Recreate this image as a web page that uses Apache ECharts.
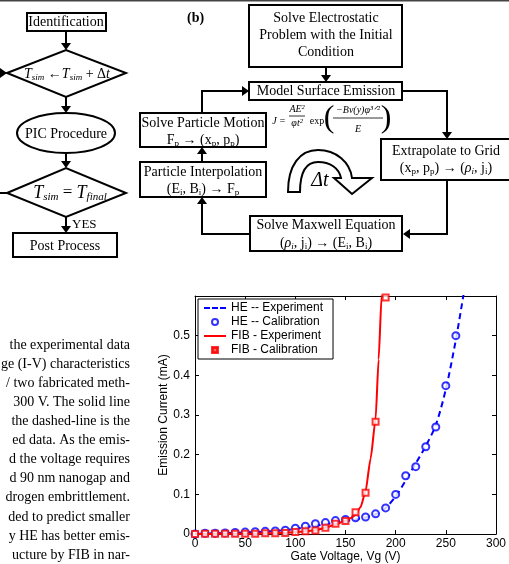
<!DOCTYPE html>
<html>
<head>
<meta charset="utf-8">
<script src="https://cdn.jsdelivr.net/npm/echarts@6/dist/echarts.min.js"></script>
<style>
html,body{margin:0;padding:0;background:#fff}
#main{width:509px;height:564px}
</style>
</head>
<body>
<div id="main"></div>
<script>
// HE -- Calibration (circles)
var heCalibV = [0,10,20,30,40,50,60,70,80,90,100,110,120,130,140,150,160,170,180,190,200,210,220,230,240,250,260];
var heCalib = [0.000,0.002,0.002,0.003,0.004,0.005,0.006,0.007,0.008,0.010,0.015,0.020,0.026,0.029,0.034,0.037,0.041,0.043,0.051,0.066,0.100,0.147,0.170,0.220,0.270,0.374,0.500];
// HE -- Experiment (dashed)
var heExpV = [0,10,20,30,40,50,60,70,80,90,100,110,120,130,140,150,160,170,180,190,200,210,220,230,240,250,260,270];
var heExp = [0.001,0.001,0.002,0.002,0.003,0.004,0.005,0.006,0.008,0.010,0.013,0.017,0.021,0.025,0.029,0.033,0.037,0.042,0.050,0.066,0.095,0.135,0.178,0.222,0.275,0.365,0.490,0.640];
// FIB - Calibration (squares)
var fibCalibV = [0,10,20,30,40,50,60,70,80,90,100,110,120,130,140,150,160,170,180,190];
var fibCalib = [0.000,0.001,0.001,0.001,0.001,0.001,0.001,0.002,0.002,0.003,0.005,0.007,0.009,0.016,0.026,0.033,0.055,0.104,0.283,0.596];
// FIB - Experiment (solid)
var fibExpV = [0,10,20,30,40,50,60,70,80,90,100,110,120,130,140,150,155,160,165,170,175,180,183,186,189];
var fibExp = [0.000,0.000,0.001,0.001,0.001,0.001,0.001,0.002,0.002,0.003,0.005,0.007,0.010,0.016,0.024,0.034,0.040,0.048,0.068,0.108,0.190,0.290,0.440,0.600,0.760];

var seriesNames = ['HE -- Experiment', 'HE -- Calibration', 'FIB - Experiment', 'FIB - Calibration'];
var textLines = [
    'the experimental data',
    'ge (I-V) characteristics',
    '/ two fabricated meth-',
    ' 300 V. The solid line',
    'the dashed-line is the',
    'ed data. As the emis-',
    'd the voltage requires',
    'd 90 nm nanogap and',
    'drogen embrittlement.',
    'ded to predict smaller',
    'y HE has better emis-',
    'ucture by FIB in nar-'
];

function pairs(xs, ys) {
    return xs.map(function (x, i) { return [x, ys[i]]; });
}

var SERIF = '"Liberation Serif", "DejaVu Serif", serif';
var SANS = '"Liberation Sans", Arial, sans-serif';
var rich = {
    n: { font: '14px ' + SERIF, fill: '#000', lineHeight: 17 },
    i: { font: 'italic 14px ' + SERIF, fill: '#000', lineHeight: 17 },
    s: { font: 'italic 9px ' + SERIF, fill: '#000', verticalAlign: 'bottom', lineHeight: 17 },
    r: { font: '9px ' + SERIF, fill: '#000', verticalAlign: 'bottom', lineHeight: 17 }
};

// 循环箭头的形状
echarts.graphic.registerShape('loopArrow', echarts.graphic.extendPath(
    'M288,192 C288,165 300,150 318,150 C336,150 350,162 352,178 L372,178 L352,194 L334,178 L341,178 C339,168 330,162 318,162 C306,162 300,172 300,192 Z'
));

// 流程图的小工具
var g = [];
function box(x, y, w, h) {
    g.push({ type: 'rect', shape: { x: x, y: y, width: w, height: h }, style: { fill: '#fff', stroke: '#000', lineWidth: 2 } });
}
function txt(x, y, t, font, align) {
    g.push({ type: 'text', style: { text: t, x: x, y: y, font: font || ('14px ' + SERIF), fill: '#000', align: align || 'center', verticalAlign: 'middle', rich: rich } });
}
function poly(pts) {
    g.push({ type: 'polyline', shape: { points: pts }, style: { stroke: '#000', lineWidth: 2, fill: null } });
}
function head(x, y, dir) {
    var p;
    if (dir === 'down') p = [[x - 5, y - 7], [x + 5, y - 7], [x, y]];
    else if (dir === 'up') p = [[x - 5, y + 7], [x + 5, y + 7], [x, y]];
    else if (dir === 'right') p = [[x - 7, y - 5], [x - 7, y + 5], [x, y]];
    else p = [[x + 7, y - 5], [x + 7, y + 5], [x, y]];
    g.push({ type: 'polygon', shape: { points: p }, style: { fill: '#000' } });
}

// 顶部的分隔线
g.push({ type: 'rect', shape: { x: 0, y: 0, width: 509, height: 1.5 }, style: { fill: '#444' } });

// (a) 左边流程
box(27, 13, 79, 18); txt(66, 22, 'Identification');
poly([[66, 31], [66, 48]]); head(66, 50, 'down');
g.push({ type: 'polygon', shape: { points: [[7, 73], [66, 50], [126, 73], [66, 97]] }, style: { fill: '#fff', stroke: '#000', lineWidth: 2 } });
txt(67, 74, '{i|T}{s|sim}{n| ←}{i|T}{s|sim}{n| + Δ}{i|t}');
poly([[0, 73], [5, 73]]); head(7, 73, 'right');
poly([[66, 97], [66, 111]]); head(66, 113, 'down');
g.push({ type: 'ellipse', shape: { cx: 66, cy: 133, rx: 49, ry: 20 }, style: { fill: '#fff', stroke: '#000', lineWidth: 2 } });
txt(66, 134, 'PIC Procedure');
poly([[66, 153], [66, 166]]); head(66, 168, 'down');
g.push({ type: 'polygon', shape: { points: [[7, 193], [66, 168], [126, 193], [66, 217]] }, style: { fill: '#fff', stroke: '#000', lineWidth: 2 } });
txt(70, 193, '{I|T}{S|sim}{N| = }{I|T}{S|final}', null);
g[g.length - 1].style.rich = {
    N: { font: '17px ' + SERIF, fill: '#000', lineHeight: 20 },
    I: { font: 'italic 18px ' + SERIF, fill: '#000', lineHeight: 20 },
    S: { font: 'italic 11px ' + SERIF, fill: '#000', verticalAlign: 'bottom', lineHeight: 20 }
};
poly([[0, 193], [7, 193]]);
poly([[66, 217], [66, 231]]); head(66, 233, 'down');
txt(72, 225, 'YES', '13px ' + SERIF, 'left');
box(13, 233, 104, 24); txt(65, 246, 'Post Process');

// (b) 右边流程
txt(187, 18, '(b)', 'bold 14px ' + SERIF, 'left');
box(249, 5, 153, 62);
txt(326, 18, 'Solve Electrostatic'); txt(326, 35, 'Problem with the Initial'); txt(326, 52, 'Condition');
poly([[326, 67], [326, 80]]); head(326, 82, 'down');
box(249, 82, 153, 18); txt(326, 91, 'Model Surface Emission');
poly([[402, 91], [447, 91], [447, 136]]); head(447, 139, 'down');
box(381, 139, 132, 41);
txt(446, 151, 'Extrapolate to Grid');
txt(446, 168, '{n|(x}{r|p}{n|, p}{r|p}{n|) → (}{i|ρ}{s|i}{n|, j}{r|i}{n|)}');
poly([[447, 180], [447, 234], [406, 234]]); head(403, 234, 'left');
box(250, 216, 152, 35);
txt(326, 225, 'Solve Maxwell Equation');
txt(326, 243, '{n|(}{i|ρ}{s|i}{n|, j}{r|i}{n|) → (E}{r|i}{n|, B}{r|i}{n|)}');
poly([[250, 234], [202, 234], [202, 200]]); head(202, 197, 'up');
box(140, 162, 126, 35);
txt(203, 172, 'Particle Interpolation');
txt(203, 189, '{n|(E}{r|i}{n|, B}{r|i}{n|) → F}{r|p}');
poly([[202, 162], [202, 150]]); head(202, 147, 'up');
box(140, 113, 126, 34);
txt(203, 123, 'Solve Particle Motion');
txt(203, 140, '{n|F}{r|p}{n| → (x}{r|p}{n|, p}{r|p}{n|)}');
poly([[202, 113], [202, 91], [246, 91]]); head(249, 91, 'right');

// 公式
txt(279, 121, 'J =', 'italic 10px ' + SERIF);
txt(297, 109, 'AE²', 'italic 10px ' + SERIF);
g.push({ type: 'line', shape: { x1: 289, y1: 116, x2: 305, y2: 116 }, style: { stroke: '#000', lineWidth: 0.8 } });
txt(297, 123, 'φt²', 'italic 10px ' + SERIF);
txt(317, 121, 'exp', '10px ' + SERIF);
txt(329, 119, '(', '32px ' + SERIF);
txt(358, 110, '−Bv(y)φ³ᐟ²', 'italic 10px ' + SERIF);
g.push({ type: 'line', shape: { x1: 333, y1: 118, x2: 383, y2: 118 }, style: { stroke: '#000', lineWidth: 0.8 } });
txt(358, 129, 'E', 'italic 10px ' + SERIF);
txt(386, 119, ')', '32px ' + SERIF);

// 循环箭头
g.push({ type: 'loopArrow', shape: {}, style: { fill: '#fff', stroke: '#000', lineWidth: 2 } });
txt(320, 181, 'Δ{i|t}', 'italic 20px ' + SERIF);
g[g.length - 1].style.rich = { i: { font: 'italic 20px ' + SERIF, fill: '#000' } };

// 左下正文
textLines.forEach(function (line, i) {
    txt(130, 345 + i * 19.1, line, '14px ' + SERIF, 'right');
});

var myChart = echarts.init(document.getElementById('main'));

var axisCommon = {
    type: 'value',
    axisLine: { show: true, onZero: false, lineStyle: { color: '#000', width: 1 } },
    axisTick: { show: true, inside: true, length: 4, lineStyle: { color: '#000' } },
    splitLine: { show: false }
};

var option = {
    animation: false,
    backgroundColor: '#fff',
    textStyle: { fontFamily: SANS },
    grid: { left: 195, top: 296, right: 11, bottom: 27, containLabel: false },
    legend: {
        orient: 'vertical',
        left: 198,
        top: 299,
        padding: [3, 10, 3, 6],
        itemGap: 2,
        itemWidth: 22,
        itemHeight: 6,
        backgroundColor: '#fff',
        borderColor: '#000',
        borderWidth: 1,
        borderRadius: 0,
        textStyle: { color: '#000', fontSize: 12, fontFamily: SANS },
        data: [
            { name: seriesNames[0], icon: 'path://M0,0h6v2h-6zM8,0h6v2h-6zM16,0h6v2h-6z' },
            { name: seriesNames[1] },
            { name: seriesNames[2], icon: 'path://M0,0h22v2h-22z' },
            { name: seriesNames[3], icon: 'path://M0,0h10v10h-10zM2.5,2.5v5h5v-5z' }
        ]
    },
    xAxis: [
        Object.assign({}, axisCommon, {
            position: 'bottom', min: 0, max: 300, interval: 50,
            name: 'Gate Voltage, Vg (V)', nameLocation: 'middle', nameGap: 15,
            nameTextStyle: { color: '#000', fontSize: 12, fontFamily: SANS },
            axisLabel: { color: '#000', fontSize: 12, fontFamily: SANS, margin: 4 }
        }),
        Object.assign({}, axisCommon, {
            position: 'top', min: 0, max: 300, interval: 50,
            axisLabel: { show: false }
        })
    ],
    yAxis: [
        Object.assign({}, axisCommon, {
            position: 'left', min: 0, max: 0.6, interval: 0.1,
            name: 'Emission Current (mA)', nameLocation: 'middle', nameGap: 25,
            nameMoveOverlap: false,
            nameTextStyle: { color: '#000', fontSize: 12, fontFamily: SANS },
            axisLabel: {
                color: '#000', fontSize: 12, fontFamily: SANS, margin: 5,
                formatter: function (v) {
                    if (v === 0) return '0';
                    if (v > 0.55) return '';
                    return v.toFixed(1);
                }
            }
        }),
        Object.assign({}, axisCommon, {
            position: 'right', min: 0, max: 0.6, interval: 0.1,
            axisLabel: { show: false }
        })
    ],
    series: [
        {
            name: seriesNames[0],
            type: 'line',
            data: pairs(heExpV, heExp),
            smooth: 0.3,
            symbol: 'none',
            clip: true,
            lineStyle: { color: '#0000ff', width: 2, type: [6, 4] },
            itemStyle: { color: '#0000ff' },
            z: 2
        },
        {
            name: seriesNames[1],
            type: 'scatter',
            data: pairs(heCalibV, heCalib),
            symbol: 'emptyCircle',
            symbolSize: 7,
            itemStyle: { color: '#0000ff', borderColor: '#0000ff', borderWidth: 1.6 },
            z: 3
        },
        {
            name: seriesNames[2],
            type: 'line',
            data: pairs(fibExpV, fibExp),
            smooth: 0.2,
            smoothMonotone: 'x',
            symbol: 'none',
            clip: true,
            lineStyle: { color: '#ff0000', width: 2 },
            itemStyle: { color: '#ff0000' },
            z: 4
        },
        {
            name: seriesNames[3],
            type: 'scatter',
            data: pairs(fibCalibV, fibCalib),
            symbol: 'emptyRect',
            symbolSize: 6,
            itemStyle: { color: '#ff0000', borderColor: '#ff0000', borderWidth: 1.6 },
            z: 5
        }
    ],
    graphic: { elements: g }
};

myChart.setOption(option);
</script>
</body>
</html>
